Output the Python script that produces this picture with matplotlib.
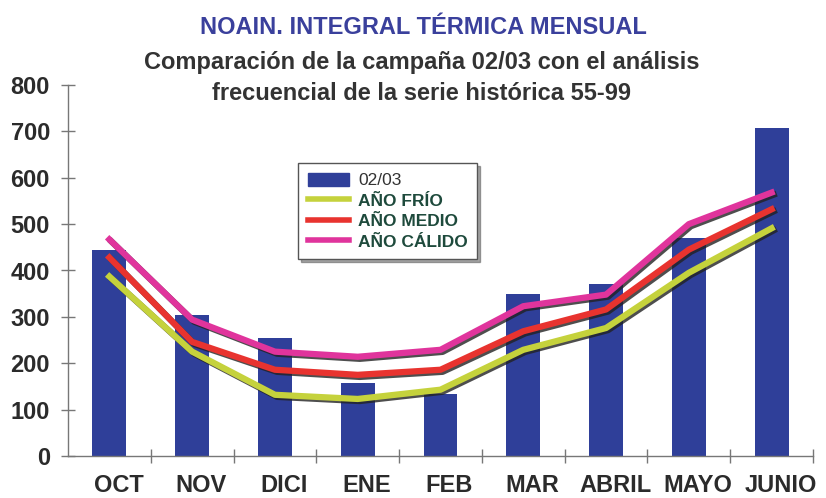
import matplotlib
matplotlib.use("Agg")
import matplotlib.pyplot as plt
import matplotlib.patheffects as pe
from matplotlib.patches import Patch
from matplotlib.lines import Line2D
from matplotlib.transforms import ScaledTranslation
import numpy as np

months = ["OCT", "NOV", "DICI", "ENE", "FEB", "MAR", "ABRIL", "MAYO", "JUNIO"]
campana_0203 = [445, 305, 255, 158, 134, 350, 370, 471, 707]
ano_frio = [387, 225, 132, 123, 143, 229, 276, 395, 491]
ano_medio = [428, 246, 186, 175, 186, 269, 316, 445, 532]
ano_calido = [467, 294, 225, 214, 229, 323, 348, 500, 568]
yticks = [0, 100, 200, 300, 400, 500, 600, 700, 800]

FAM = ["Liberation Sans", "DejaVu Sans"]
plt.rcParams['font.family'] = FAM

fig = plt.figure(figsize=(8.26, 4.98), dpi=100)
ax = fig.add_axes([68/826, 1-456/498, (813-68)/826, (456-85)/498])

x = np.arange(len(months))
bar_c = "#2f3f99"
ax.bar(x, campana_0203, width=0.41, color=bar_c, zorder=2)

shadow = [pe.SimpleLineShadow(offset=(1.5, -1.5), shadow_color="#222222", alpha=0.8), pe.Normal()]
ax.plot(x, ano_frio, color="#c5d23c", lw=4.5, zorder=3, path_effects=shadow, solid_joinstyle="round")
ax.plot(x, ano_medio, color="#e8332f", lw=4.5, zorder=3, path_effects=shadow, solid_joinstyle="round")
ax.plot(x, ano_calido, color="#e0349c", lw=4.5, zorder=3, path_effects=shadow, solid_joinstyle="round")

ax.set_xlim(-0.5, len(months) - 0.5)
ax.set_ylim(0, 800)
ax.spines['top'].set_visible(False)
ax.spines['right'].set_visible(False)
for s in ['left', 'bottom']:
    ax.spines[s].set_color("#777777")
    ax.spines[s].set_linewidth(1.0)

ax.set_yticks(yticks)
ax.set_yticklabels([str(v) for v in yticks], fontsize=17, fontweight='bold', color="#2b2b2b")
ax.tick_params(axis='y', direction='inout', length=10, width=1, color="#777777", pad=8)

ax.set_xticks(x)
ax.set_xticklabels(months, fontsize=17, fontweight='bold', color="#2b2b2b")
ax.tick_params(axis='x', which='major', length=0, pad=13)
ax.set_xticks(np.arange(-0.5, len(months), 1.0)[1:], minor=True)
ax.tick_params(axis='x', which='minor', direction='inout', length=10, width=1, color="#777777")
shift = ScaledTranslation(9/100, 0, fig.dpi_scale_trans)
for lab in ax.get_xticklabels():
    lab.set_transform(lab.get_transform() + shift)

fig.text(0.513, 1-27/498, "NOAIN. INTEGRAL TÉRMICA MENSUAL", ha='center', va='center',
         fontsize=17, fontweight='bold', color="#3a409c")
fig.text(0.510, 1-62/498, "Comparación de la campaña 02/03 con el análisis", ha='center', va='center',
         fontsize=17, fontweight='bold', color="#333333")
fig.text(0.510, 1-93/498, "frecuencial de la serie histórica 55-99", ha='center', va='center',
         fontsize=17, fontweight='bold', color="#333333")

handles = [Patch(facecolor=bar_c, edgecolor=bar_c),
           Line2D([], [], color="#c5d23c", lw=4),
           Line2D([], [], color="#e8332f", lw=4),
           Line2D([], [], color="#e0349c", lw=4)]
labels = ["02/03", "AÑO FRÍO", "AÑO MEDIO", "AÑO CÁLIDO"]
leg = ax.legend(handles, labels, loc='upper left', bbox_to_anchor=((298-68)/745, (456-163)/371),
                fontsize=12.5, frameon=True, fancybox=False, shadow=True, edgecolor="#555555",
                handlelength=2.4, handleheight=0.8, labelspacing=0.28, borderpad=0.55,
                handletextpad=0.5, borderaxespad=0)
leg.get_frame().set_linewidth(1.0)
for i, t in enumerate(leg.get_texts()):
    if i == 0:
        t.set_color("#333333")
    else:
        t.set_color("#1e4a3c")
        t.set_fontweight('bold')
leg.set_zorder(5)

fig.savefig("out.png", dpi=100)
